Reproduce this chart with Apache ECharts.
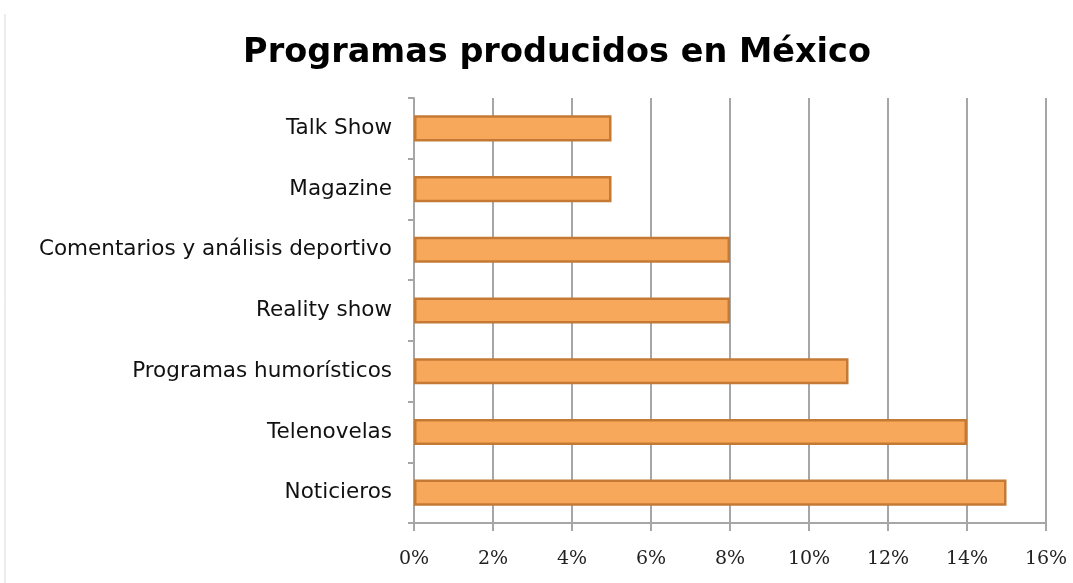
<!DOCTYPE html>
<html>
<head>
<meta charset="utf-8">
<script src="https://cdn.jsdelivr.net/npm/echarts@6/dist/echarts.min.js"></script>
<style>
html,body{margin:0;padding:0;background:#fff;}
#chart{width:1073px;height:583px;}
</style>
</head>
<body>
<div id="chart"></div>
<script>
const titleText = 'Programas producidos en México';
const categories = ['Noticieros','Telenovelas','Programas humorísticos','Reality show','Comentarios y análisis deportivo','Magazine','Talk Show'];
const values = [15, 14, 11, 8, 8, 5, 5];
const xTicks = { min: 0, max: 16, interval: 2 };

const chart = echarts.init(document.getElementById('chart'));
chart.setOption({
  backgroundColor: '#ffffff',
  animation: false,
  title: {
    text: titleText,
    left: 552,
    textAlign: 'center',
    top: 31,
    textStyle: { fontFamily: 'DejaVu Sans', fontWeight: 'bold', fontSize: 33.5, color: '#000' }
  },
  graphic: [{
    type: 'line', shape: { x1: 5, y1: 14, x2: 5, y2: 583 },
    style: { stroke: '#d9d9d9', lineWidth: 1 }, silent: true
  }],
  grid: { left: 414, right: 27, top: 98, bottom: 60, containLabel: false },
  xAxis: {
    type: 'value',
    min: xTicks.min, max: xTicks.max, interval: xTicks.interval,
    axisLine: { show: true, lineStyle: { color: '#a6a6a6', width: 2 } },
    axisTick: { show: true, length: 8, lineStyle: { color: '#a6a6a6', width: 2 } },
    splitLine: { show: true, lineStyle: { color: '#a6a6a6', width: 2 } },
    axisLabel: {
      formatter: v => v + '%',
      margin: 27,
      fontFamily: 'DejaVu Serif', fontSize: 19, color: '#222'
    }
  },
  yAxis: {
    type: 'category',
    data: categories,
    axisLine: { show: true, lineStyle: { color: '#a6a6a6', width: 2 } },
    axisTick: { show: true, length: 6, lineStyle: { color: '#a6a6a6', width: 2 } },
    axisLabel: { margin: 22, fontFamily: 'DejaVu Sans', fontSize: 21.5, color: '#111', padding: [4, 0, 0, 0] }
  },
  series: [{
    type: 'bar',
    data: values,
    barCategoryGap: '57%',
    itemStyle: { color: '#f8a85a', borderColor: '#c47a35', borderWidth: 2.5 }
  }]
});
</script>
</body>
</html>
